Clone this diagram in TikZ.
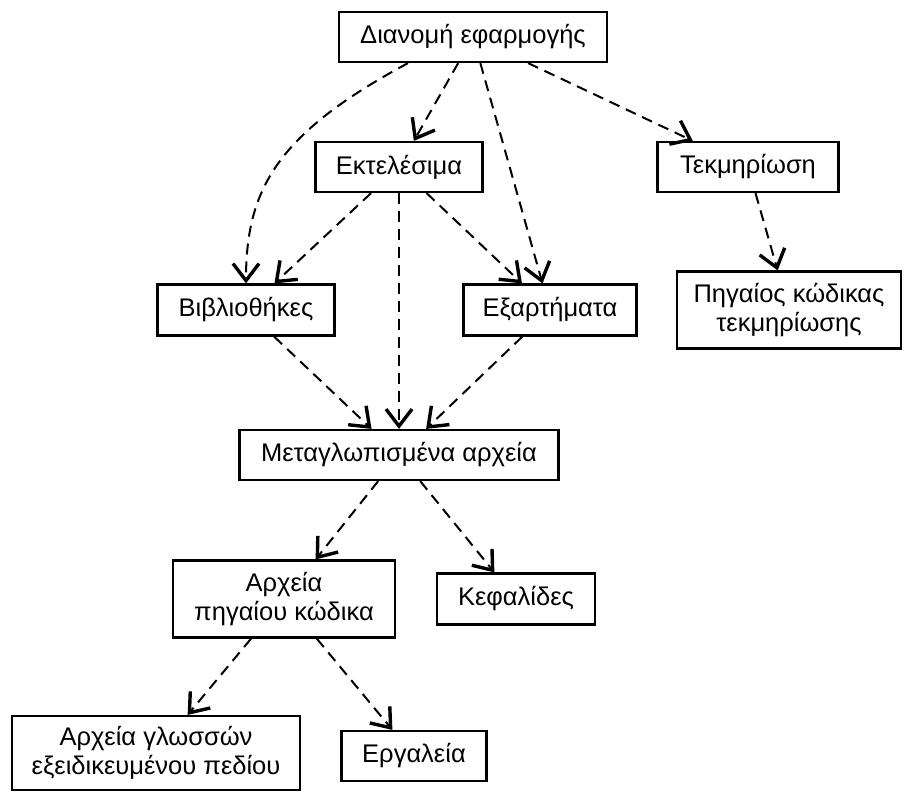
\documentclass[tikz,border=0pt]{standalone}
\usepackage{fontspec}
\setmainfont{Liberation Sans}
\usetikzlibrary{arrows.meta}
\tikzset{
  item/.style={draw=black, line width=2.2pt, fill=white, inner sep=0pt, align=center, font=\fontsize{25.5}{29}\selectfont},
  link/.style={draw=black, line width=2pt, dash pattern=on 11pt off 7pt, -{Straight Barb[length=17pt,width=26pt,line width=3.4pt]}},
}

\begin{document}
\begin{tikzpicture}[x=1pt,y=-1pt]
  \useasboundingbox (0,0) rectangle (904,792);
  % boxes
  \node[item, minimum width=268pt, minimum height=50pt] (dist) at (473,37) {Διανομή εφαρμογής};
  \node[item, minimum width=167pt, minimum height=50pt] (exe) at (399,167) {Εκτελέσιμα};
  \node[item, minimum width=181pt, minimum height=50pt] (doc) at (748,167) {Τεκμηρίωση};
  \node[item, minimum width=177pt, minimum height=51pt] (lib) at (246,310) {Βιβλιοθήκες};
  \node[item, minimum width=173pt, minimum height=51pt] (comp) at (550,310) {Εξαρτήματα};
  \node[item, minimum width=224pt, minimum height=77pt] (docsrc) at (789,310) {Πηγαίος κώδικας\\τεκμηρίωσης};
  \node[item, minimum width=319pt, minimum height=50pt] (obj) at (399,455) {Μεταγλωπισμένα αρχεία};
  \node[item, minimum width=222pt, minimum height=77pt] (src) at (284,599) {Αρχεία\\πηγαίου κώδικα};
  \node[item, minimum width=158pt, minimum height=51pt] (hdr) at (516,599) {Κεφαλίδες};
  \node[item, minimum width=288pt, minimum height=74pt] (dsl) at (156,753) {Αρχεία γλωσσών\\εξειδικευμένου πεδίου};
  \node[item, minimum width=145pt, minimum height=50pt] (tools) at (414,756) {Εργαλεία};
  % dependencies
  \draw[link] ([xshift=-65pt]dist.south) .. controls +(-130,70) and +(0,-95) .. (lib.north);
  \draw[link] (dist) -- (exe);
  \draw[link] (dist) -- (comp);
  \draw[link] (dist) -- (doc);
  \draw[link] (exe) -- (lib);
  \draw[link] (exe) -- (obj);
  \draw[link] (exe) -- (comp);
  \draw[link] (doc) -- (docsrc);
  \draw[link] (lib) -- (obj);
  \draw[link] (comp) -- (obj);
  \draw[link] (obj) -- (src);
  \draw[link] (obj) -- (hdr);
  \draw[link] (src) -- (dsl);
  \draw[link] (src) -- (tools);
\end{tikzpicture}
\end{document}
